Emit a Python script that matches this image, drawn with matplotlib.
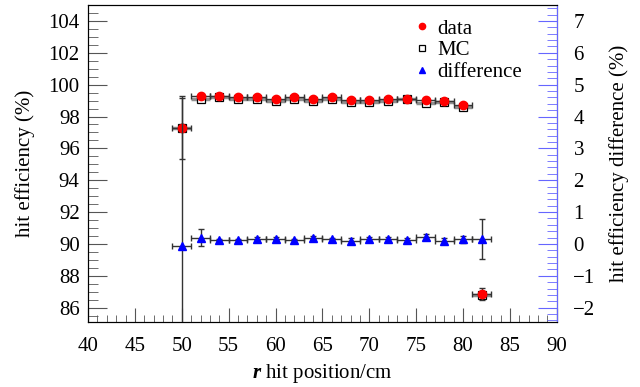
import numpy as np
import matplotlib
matplotlib.use('Agg')
import matplotlib.pyplot as plt
from matplotlib.ticker import MultipleLocator
from matplotlib.lines import Line2D

plt.rcParams['font.family'] = ['Liberation Serif', 'DejaVu Serif']
plt.rcParams['mathtext.fontset'] = 'custom'
plt.rcParams['mathtext.it'] = 'Liberation Serif:italic:bold'
plt.rcParams['mathtext.rm'] = 'Liberation Serif'

# r bins (centre, half width 1 cm)
r = [50, 52, 54, 56, 58, 60, 62, 64, 66, 68, 70, 72, 74, 76, 78, 80, 82]
r_half = [1] * len(r)

# hit efficiency (%)
data = [97.26, 99.29, 99.30, 99.22, 99.20, 99.12, 99.22, 99.12, 99.20, 99.02, 99.05,
        99.12, 99.13, 99.05, 99.00, 98.72, 86.86]
data_err = [1.9, 0.06, 0.05, 0.05, 0.05, 0.05, 0.05, 0.05, 0.05, 0.05, 0.05,
            0.05, 0.05, 0.05, 0.05, 0.06, 0.4]
mc = [97.30, 99.10, 99.20, 99.10, 99.10, 99.00, 99.10, 98.95, 99.08, 98.90, 98.90,
      99.00, 99.08, 98.82, 98.90, 98.58, 86.80]
mc_err = [0.3, 0.1, 0.08, 0.08, 0.08, 0.08, 0.08, 0.08, 0.08, 0.08, 0.08,
          0.08, 0.08, 0.08, 0.08, 0.08, 0.3]

# difference (%)
diff = [-0.06, 0.20, 0.12, 0.12, 0.17, 0.17, 0.12, 0.19, 0.15, 0.10, 0.15,
        0.15, 0.12, 0.22, 0.10, 0.14, 0.16]
diff_err = [4.7, 0.27, 0.04, 0.05, 0.05, 0.05, 0.05, 0.05, 0.05, 0.08, 0.08,
            0.08, 0.08, 0.10, 0.08, 0.12, 0.62]

fig = plt.figure(figsize=(6.4, 3.87), dpi=100)
ax = fig.add_axes([0.1375, 0.168, 0.7325, 0.819])

ax.errorbar(r, mc, xerr=r_half, yerr=mc_err, fmt='s', ms=6, mfc='white', mec='black',
            mew=0.9, ecolor='#909090', elinewidth=2.5, capsize=0, zorder=2)
ax.errorbar(r, data, xerr=r_half, yerr=data_err, fmt='o', ms=6, color='red',
            ecolor='#333333', elinewidth=1.0, capsize=2.5, capthick=1, zorder=3)

ax.set_xlim(40, 90)
ax.set_ylim(85.1, 105)
ax.xaxis.set_major_locator(MultipleLocator(5))
ax.xaxis.set_minor_locator(MultipleLocator(1))
ax.yaxis.set_major_locator(MultipleLocator(2))
ax.yaxis.set_minor_locator(MultipleLocator(0.5))
ax.tick_params(which='both', direction='in', top=False, right=False, labelsize=15,
               color='#555555')
ax.tick_params(axis='y', which='major', length=14, pad=6)
ax.tick_params(axis='y', which='minor', length=7)
ax.tick_params(axis='x', which='major', length=10, pad=11)
ax.tick_params(axis='x', which='minor', length=5)
ax.set_xlabel('$r$ hit position/cm', fontsize=15, labelpad=4)
ax.set_ylabel('hit efficiency (%)', fontsize=15, labelpad=10)

ax2 = ax.twinx()
ax2.errorbar(r, diff, xerr=r_half, yerr=diff_err, fmt='^', ms=5.5, color='blue',
             ecolor='#333333', elinewidth=1.0, capsize=2.5, capthick=1, zorder=3)
ax2.set_ylim((85.1 - 90) / 2, (105 - 90) / 2)
ax2.yaxis.set_major_locator(MultipleLocator(1))
ax2.yaxis.set_minor_locator(MultipleLocator(0.2))
ax2.tick_params(which='both', direction='in', labelsize=15, color='#6666ff')
ax2.tick_params(which='major', length=14, pad=12)
ax2.tick_params(which='minor', length=7)
ax2.spines['right'].set_color('#6666ff')
ax2.set_ylabel('hit efficiency difference (%)', fontsize=15, labelpad=10)

handles = [
    Line2D([], [], ls='none', marker='o', ms=4.5, color='red'),
    Line2D([], [], ls='none', marker='s', ms=5, mfc='white', mec='black', mew=0.9),
    Line2D([], [], ls='none', marker='^', ms=4.5, color='blue'),
]
labels = ['data', 'MC', 'difference']
ax2.legend(handles, labels, loc='upper right', bbox_to_anchor=(0.965, 1.015),
           frameon=False, fontsize=15, handlelength=0.6, handletextpad=0.4,
           labelspacing=0.1)

fig.savefig('out.png', dpi=100)
